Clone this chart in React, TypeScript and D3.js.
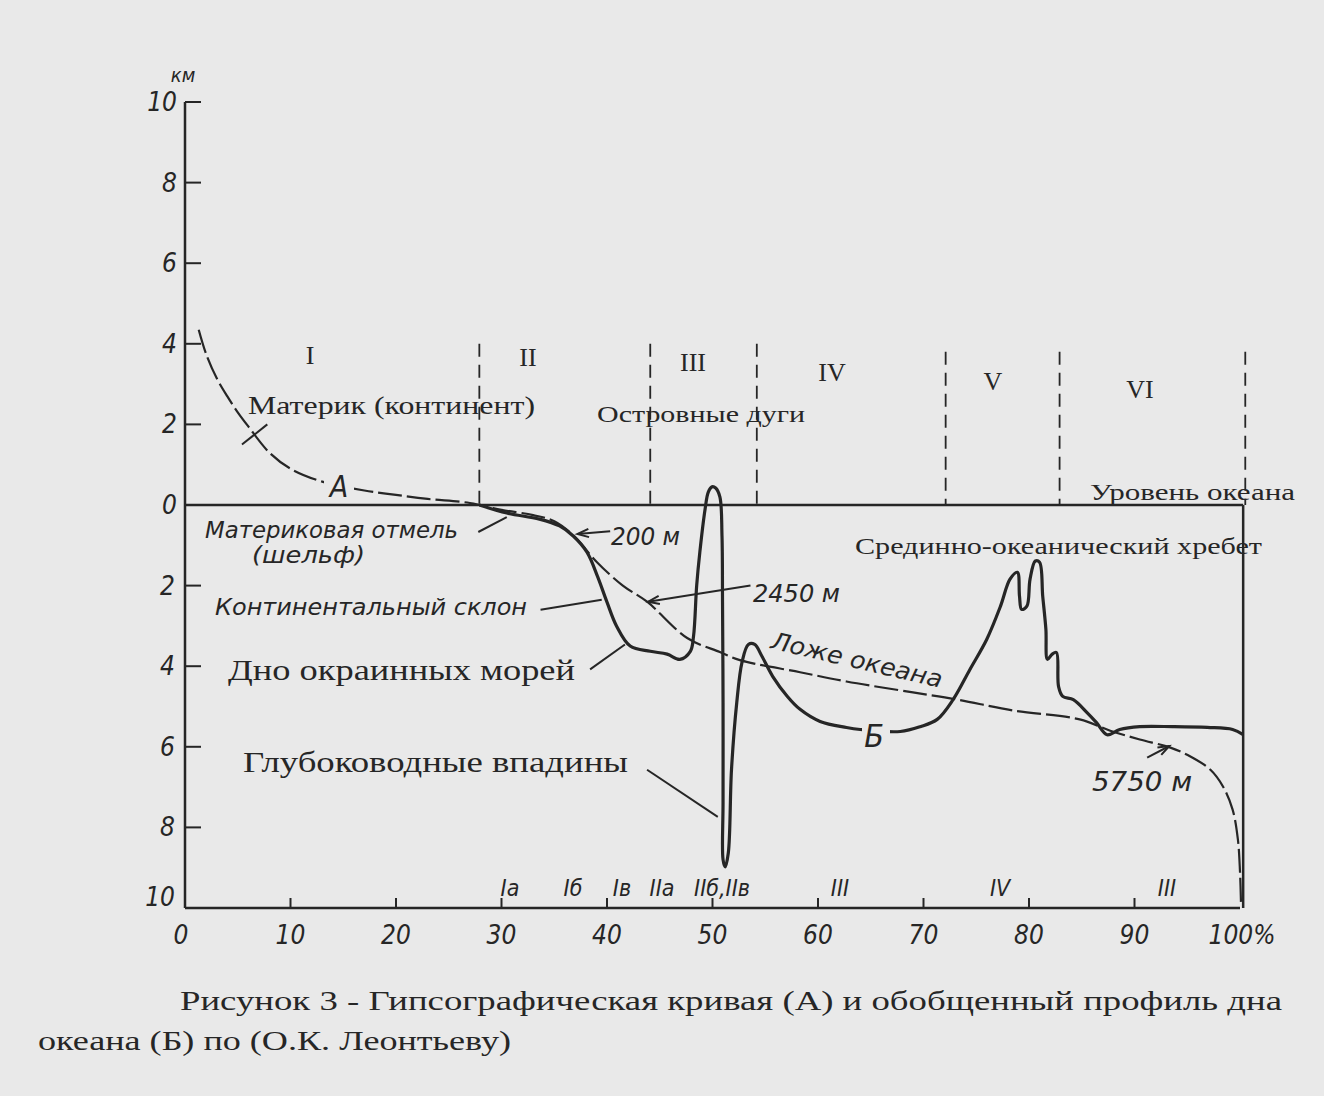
import React from "react";
import * as d3 from "d3";

// ---------- DATA ----------
const yTicksUp = [10, 8, 6, 4, 2, 0];
const yTicksDown = [2, 4, 6, 8, 10];
const xTicks = [10, 20, 30, 40, 50, 60, 70, 80, 90];
const xTickLabels = ["0", "10", "20", "30", "40", "50", "60", "70", "80", "90", "100%"];

// Hypsographic curve A: percent of Earth's surface vs elevation (km)
const curveA_pct = [1.3, 2, 3, 4, 5, 6, 8, 10, 13, 17, 20, 23, 27, 30, 33, 35, 36.8, 39.05, 41.5, 43.8, 47.6, 50.7, 52.6, 58.3, 62.7, 69, 73.2, 78.5, 84.8, 87.7, 90.5, 93.4, 95.3, 97.2, 98.4, 99.3, 99.8, 100, 100.1];
const curveA_km = [4.35, 3.75, 3.15, 2.7, 2.3, 1.95, 1.3, 0.9, 0.58, 0.36, 0.25, 0.15, 0.05, -0.12, -0.25, -0.4, -0.75, -1.42, -2.0, -2.4, -3.3, -3.65, -3.85, -4.15, -4.38, -4.65, -4.83, -5.1, -5.32, -5.6, -5.82, -6.02, -6.24, -6.57, -6.99, -7.56, -8.3, -9.1, -9.95];

// Generalized ocean floor profile B
const profileB_pct = [27.9, 30.5, 33.6, 35.5, 36.8, 38.1, 39.1, 40.0, 40.9, 42.2, 44.1, 45.7, 46.9, 47.9, 48.2, 48.5, 48.8, 49.3, 49.6, 49.95, 50.3, 50.7, 50.9, 50.95, 51.0, 51.0, 51.0, 51.2, 51.5, 51.8, 52.3, 52.8, 53.4, 54.0, 54.7, 55.7, 57.1, 58.3, 60.2, 62.7, 64.0, 67.8, 69.7, 71.3, 72.8, 74.4, 76.0, 77.3, 78.2, 78.9, 79.1, 79.3, 79.8, 80.1, 80.6, 81.0, 81.3, 81.6, 81.75, 82.2, 82.6, 82.8, 83.2, 84.2, 85.5, 86.4, 87.4, 88.6, 90.5, 93.6, 96.9, 99.3, 100.3];
const profileB_km = [0.0, -0.2, -0.35, -0.52, -0.77, -1.17, -1.77, -2.41, -3.0, -3.5, -3.63, -3.7, -3.83, -3.63, -3.26, -2.0, -1.17, -0.1, 0.32, 0.45, 0.42, 0.2, -0.77, -2.41, -4.9, -7.39, -8.8, -8.98, -8.63, -6.57, -4.9, -3.9, -3.46, -3.46, -3.76, -4.25, -4.75, -5.07, -5.37, -5.52, -5.57, -5.62, -5.5, -5.32, -4.83, -4.08, -3.33, -2.51, -1.84, -1.67, -2.26, -2.59, -2.51, -1.84, -1.39, -1.42, -2.26, -3.08, -3.83, -3.7, -3.66, -4.5, -4.75, -4.83, -5.15, -5.4, -5.7, -5.57, -5.5, -5.5, -5.52, -5.57, -5.7];

// Zone boundaries (percent) and zone names
const zoneBounds = [27.9, 44.1, 54.2, 72.1, 82.9, 100.5];
const zoneTopKm = [4.0, 4.0, 4.0, 3.8, 3.8, 3.8];
const zoneNames = ["I", "II", "III", "IV", "V", "VI"];
const zoneNameX = [310, 528, 693, 832, 993, 1140];
const zoneNameY = [364, 366, 371, 381, 390, 398];

// Bottom zone labels
const bottomLabels = ["Iа", "Iб", "Iв", "IIа", "IIб,IIв", "III", "IV", "III"];
const bottomLabelX = [510, 573, 622, 662, 722, 840, 1000, 1167];

// Leaders [p1, km1, p2, km2, arrow]
const leaders: [number, number, number, number, boolean][] = [
  [40.3, -0.65, 37.2, -0.72, true],
  [53.6, -2.0, 43.9, -2.4, true],
  [33.7, -2.6, 39.5, -2.35, false],
  [27.8, -0.67, 30.5, -0.3, false],
  [38.4, -4.08, 41.7, -3.46, false],
  [43.8, -6.57, 50.5, -7.74, false],
  [5.4, 1.5, 7.8, 2.0, false],
  [91.2, -6.27, 93.3, -5.98, true],
];

// ---------- CHART ----------
const W = 1324, H = 1096;
const BG = "#e9e9e9";
const INK = "#262626";
const ITAL = "'Liberation Sans Narrow', 'DejaVu Sans Condensed', 'Liberation Sans', sans-serif";
const SERIF = "'Liberation Serif', 'DejaVu Serif', serif";

export default function App() {
  const x = d3.scaleLinear().domain([0, 100]).range([185, 1240]);
  const y = d3.scaleLinear().domain([-10, 10]).range([908, 102]);

  const line = d3
    .line<[number, number]>()
    .x((d) => x(d[0]))
    .y((d) => y(d[1]))
    .curve(d3.curveCatmullRom.alpha(0.5));

  const aPath = line(curveA_pct.map((p, i) => [p, curveA_km[i]]) as [number, number][]) || "";
  const bPath = line(profileB_pct.map((p, i) => [p, profileB_km[i]]) as [number, number][]) || "";

  const x0 = x(0);
  const arrowHead = (x1: number, y1: number, x2: number, y2: number) => {
    const a = Math.atan2(y2 - y1, x2 - x1);
    const L = 12, s = 0.35;
    const p1 = [x2 - L * Math.cos(a - s), y2 - L * Math.sin(a - s)];
    const p2 = [x2 - L * Math.cos(a + s), y2 - L * Math.sin(a + s)];
    return `M${p1[0]},${p1[1]}L${x2},${y2}L${p2[0]},${p2[1]}`;
  };

  const italic = { fontFamily: ITAL, fontStyle: "italic" as const, fill: INK };
  const serif = { fontFamily: SERIF, fill: INK };

  return (
    <svg width={W} height={H} style={{ position: "absolute", left: 0, top: 0 }}>
      <rect x={0} y={0} width={W} height={H} fill={BG} />

      {/* axes frame */}
      <line x1={x0} y1={y(10)} x2={x0} y2={y(-10)} stroke={INK} strokeWidth={2.5} />
      <line x1={x0} y1={y(-10)} x2={x(100)} y2={y(-10)} stroke={INK} strokeWidth={2.5} />
      <line x1={x0} y1={y(0)} x2={x(100.3)} y2={y(0)} stroke={INK} strokeWidth={2.5} />
      <line x1={x(100.3)} y1={y(0)} x2={x(100.3)} y2={y(-10)} stroke={INK} strokeWidth={2.5} />

      {/* y ticks */}
      {yTicksUp.map((t) => (
        <g key={"u" + t}>
          {t !== 0 && <line x1={x0} x2={x0 + 16} y1={y(t)} y2={y(t)} stroke={INK} strokeWidth={2} />}
          <text x={x0 - 8} y={y(t) + 9} textAnchor="end" fontSize={26} {...italic}>{t}</text>
        </g>
      ))}
      {yTicksDown.map((t) => (
        <g key={"d" + t}>
          {t !== 10 && <line x1={x0} x2={x0 + 16} y1={y(-t)} y2={y(-t)} stroke={INK} strokeWidth={2} />}
          <text x={x0 - 10} y={y(-t) + (t === 10 ? -2 : 9)} textAnchor="end" fontSize={26} {...italic}>{t}</text>
        </g>
      ))}
      <text x={x0 - 2} y={82} textAnchor="middle" fontSize={20} {...italic}>км</text>

      {/* x ticks */}
      {xTicks.map((t) => (
        <line key={"xt" + t} x1={x(t)} x2={x(t)} y1={y(-10)} y2={y(-10) - 10} stroke={INK} strokeWidth={2} />
      ))}
      {xTickLabels.map((l, i) => (
        <text key={"xl" + i} x={x(i * 10) + (i === 0 ? -4 : i === 10 ? 2 : 0)} y={944} textAnchor="middle" fontSize={26} {...italic}>{l}</text>
      ))}

      {/* zone boundaries */}
      {zoneBounds.map((p, i) => (
        <line key={"zb" + i} x1={x(p)} x2={x(p)} y1={y(zoneTopKm[i])} y2={y(0)} stroke={INK} strokeWidth={1.8} strokeDasharray="13 8" />
      ))}
      {zoneNames.map((n, i) => (
        <text key={"zn" + i} x={zoneNameX[i]} y={zoneNameY[i]} textAnchor="middle" fontSize={26} {...serif}>{n}</text>
      ))}

      {/* curves */}
      <path d={aPath} fill="none" stroke={INK} strokeWidth={2.2} strokeDasharray="24 5" />
      <path d={bPath} fill="none" stroke={INK} strokeWidth={3.2} strokeLinejoin="round" />

      {/* leaders */}
      {leaders.map((l, i) => {
        const x1 = x(l[0]), y1 = y(l[1]), x2 = x(l[2]), y2 = y(l[3]);
        return (
          <g key={"ld" + i}>
            <line x1={x1} y1={y1} x2={x2} y2={y2} stroke={INK} strokeWidth={2} />
            {l[4] && <path d={arrowHead(x1, y1, x2, y2)} fill="none" stroke={INK} strokeWidth={2} />}
          </g>
        );
      })}

      {/* curve labels with background */}
      <rect x={324} y={472} width={30} height={30} fill={BG} />
      <text x={339} y={497} textAnchor="middle" fontSize={30} {...italic}>А</text>
      <rect x={862} y={718} width={28} height={34} fill={BG} />
      <text x={874} y={747} textAnchor="middle" fontSize={32} {...italic}>Б</text>

      {/* serif labels */}
      <text x={248} y={414} fontSize={25} textLength={287} lengthAdjust="spacingAndGlyphs" {...serif}>Материк  (континент)</text>
      <text x={597} y={422} fontSize={24} textLength={208} lengthAdjust="spacingAndGlyphs" {...serif}>Островные дуги</text>
      <text x={1090} y={500} fontSize={24} textLength={205} lengthAdjust="spacingAndGlyphs" {...serif}>Уровень океана</text>
      <text x={855} y={554} fontSize={24} textLength={407} lengthAdjust="spacingAndGlyphs" {...serif}>Срединно-океанический хребет</text>
      <text x={228} y={680} fontSize={30} textLength={347} lengthAdjust="spacingAndGlyphs" {...serif}>Дно окраинных морей</text>
      <text x={243} y={772} fontSize={30} textLength={385} lengthAdjust="spacingAndGlyphs" {...serif}>Глубоководные впадины</text>

      {/* italic labels */}
      <text x={205} y={538} fontSize={23} textLength={253} lengthAdjust="spacingAndGlyphs" {...italic}>Материковая отмель</text>
      <text x={252} y={563} fontSize={23} textLength={113} lengthAdjust="spacingAndGlyphs" {...italic}>(шельф)</text>
      <text x={215} y={615} fontSize={23} textLength={312} lengthAdjust="spacingAndGlyphs" {...italic}>Континентальный склон</text>
      <text x={611} y={545} fontSize={24} textLength={69} lengthAdjust="spacingAndGlyphs" {...italic}>200 м</text>
      <text x={753} y={602} fontSize={25} textLength={87} lengthAdjust="spacingAndGlyphs" {...italic}>2450 м</text>
      <text x={1092} y={791} fontSize={26} textLength={100} lengthAdjust="spacingAndGlyphs" {...italic}>5750 м</text>
      <text transform="translate(855,668) rotate(13)" textAnchor="middle" fontSize={24} textLength={175} lengthAdjust="spacingAndGlyphs" {...italic}>Ложе океана</text>

      {bottomLabels.map((l, i) => (
        <text key={"bl" + i} x={bottomLabelX[i]} y={896} textAnchor="middle" fontSize={23} {...italic}>{l}</text>
      ))}

      {/* caption */}
      <text x={180} y={1010} fontSize={28} textLength={1102} lengthAdjust="spacingAndGlyphs" {...serif}>Рисунок 3 - Гипсографическая кривая (А) и обобщенный профиль дна</text>
      <text x={38} y={1050} fontSize={28} textLength={473} lengthAdjust="spacingAndGlyphs" {...serif}>океана (Б) по (О.К. Леонтьеву)</text>
    </svg>
  );
}
